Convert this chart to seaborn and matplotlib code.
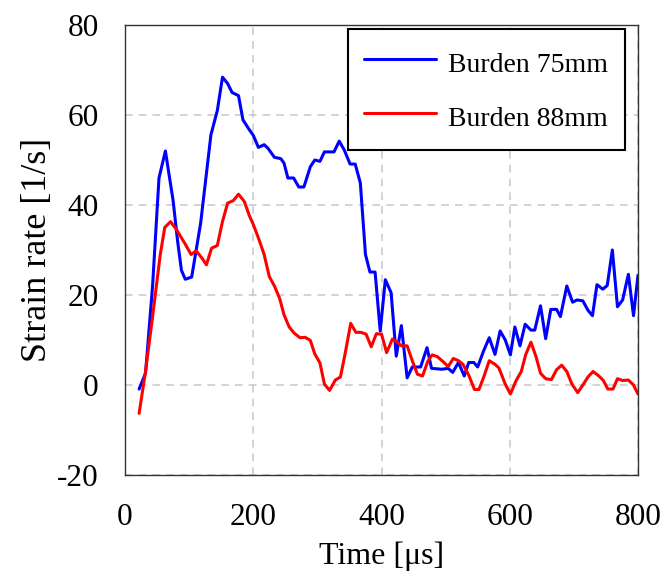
import numpy as np
import pandas as pd
import matplotlib
matplotlib.use("Agg")
import matplotlib.pyplot as plt
import seaborn as sns

t_75 = [22, 32, 43, 53, 63, 75, 82, 88, 94, 104, 118, 134, 144, 152, 160, 167, 177, 184, 194, 200,
        208, 217, 223, 233, 243, 248, 254, 263, 271, 279, 289, 296, 304, 311, 326, 334, 342, 351, 359,
        367, 375, 382, 390, 398, 406, 415, 423, 431, 440, 448, 461, 471, 478, 494, 504, 511, 520, 529,
        536, 544, 550, 559, 568, 577, 585, 593, 601, 608, 616, 624, 633, 639, 648, 656, 664, 673, 679,
        689, 698, 705, 714, 722, 729, 736, 745, 752, 760, 768, 776, 785, 793, 800]
v_75 = [-0.9, 2.6, 22, 46, 52, 41, 32, 25.5, 23.5, 24, 36, 55.6, 61, 68.4, 67, 65, 64.3, 58.9, 56.7, 55.5,
        52.8, 53.4, 52.6, 50.6, 50.3, 49.3, 46, 46, 44, 44, 48.5, 50, 49.7, 51.8, 51.8, 54.2, 52.2, 49.1, 49.1,
        44.9, 29, 25.1, 25.1, 12, 23.4, 20.5, 6.4, 13.2, 1.6, 4, 4, 8.3, 3.7, 3.5, 3.7, 2.8, 5, 2,
        5, 5, 4, 7.5, 10.5, 6.8, 12, 10, 6.7, 12.9, 8.7, 13.5, 12.2, 12.2, 17.6, 10.3, 16.8, 16.8, 15.2,
        22, 18.4, 18.9, 18.7, 16.6, 15.4, 22.3, 21.3, 22.1, 30, 17.4, 18.9, 24.6, 15.4, 24.4]

t_88 = [22, 32, 43, 55, 62, 71, 80, 88, 94, 103, 111, 120, 127, 135, 144, 152, 160, 169, 177, 186,
        194, 200, 209, 217, 225, 233, 241, 248, 256, 264, 273, 281, 289, 296, 304, 311, 319, 328, 336,
        344, 352, 360, 368, 376, 384, 392, 400, 408, 417, 425, 431, 440, 448, 456, 464, 472, 479, 487,
        496, 504, 512, 520, 527, 536, 545, 552, 560, 568, 577, 583, 593, 601, 610, 618, 625, 633, 641,
        648, 656, 665, 673, 681, 689, 697, 706, 714, 722, 730, 739, 746, 753, 761, 768, 776, 785, 793, 800]
v_88 = [-6.3, 3, 15.2, 29, 35, 36.3, 34.6, 32.7, 31.3, 29, 29.8, 28.2, 26.7, 30.4, 31, 36.3, 40.4, 41, 42.4, 40.8,
        37.6, 35.7, 32.3, 29, 24.1, 22, 19.3, 15.6, 12.9, 11.5, 10.5, 10.6, 9.9, 6.9, 4.9, 0.2, -1.2, 1.1, 1.8,
        7.5, 13.7, 11.7, 11.7, 11.3, 8.5, 11.4, 11.3, 7.2, 10.2, 9.5, 8.7, 8.7, 5.4, 2.4, 2, 5.2, 6.7, 6.3,
        5.2, 4.1, 5.9, 5.4, 4.6, 2.2, -1, -1, 2, 5.4, 4.6, 3.8, 0.2, -2, 1, 3, 6.8, 9.5, 6.3,
        2.6, 1.4, 1.2, 3.4, 4.4, 3, 0.2, -1.7, 0, 1.8, 3, 2, 1, -0.9, -0.9, 1.4, 1, 1.1, 0, -2]

labels = ["Burden 75mm", "Burden 88mm"]
x_ticks = [0, 200, 400, 600, 800]
y_ticks = [-20, 0, 20, 40, 60, 80]

df = pd.concat([
    pd.DataFrame({"t": t_75, "v": v_75, "series": labels[0]}),
    pd.DataFrame({"t": t_88, "v": v_88, "series": labels[1]}),
], ignore_index=True)

sns.set_theme(style="white")
plt.rcParams["font.family"] = ["Liberation Serif", "DejaVu Serif"]
plt.rcParams["axes.unicode_minus"] = False
plt.rcParams["text.color"] = "black"
plt.rcParams["axes.labelcolor"] = "black"

fig = plt.figure(figsize=(6.64, 5.76), dpi=100)
ax = fig.add_axes([125 / 664, 1 - 475 / 576, 513 / 664, 450 / 576])

sns.lineplot(data=df, x="t", y="v", hue="series", palette=["#0000ff", "#ff0000"],
             linewidth=2.2, ax=ax, sort=False, estimator=None)

ax.set_xlim(0, 800)
ax.set_ylim(-20, 80)
ax.set_xticks(x_ticks)
ax.set_yticks(y_ticks)
ax.tick_params(axis="both", labelsize=22.5, length=0, colors="black")
ax.tick_params(axis="x", pad=20)
ax.tick_params(axis="y", pad=19)
ax.grid(True, color="#c8c8c8", linestyle=(0, (5, 4)), linewidth=1.1)
for s in ax.spines.values():
    s.set_color("#333333")
    s.set_linewidth(1.0)
ax.set_xlabel("Time [μs]", fontsize=23, labelpad=7)
ax.set_ylabel("Strain rate [1/s]", fontsize=26, labelpad=2)

leg = ax.legend(loc="upper right", bbox_to_anchor=(500 / 513, 446 / 450), fontsize=20,
                frameon=True, fancybox=False, edgecolor="black", handlelength=2.6,
                handleheight=1.5, handletextpad=0.43, labelspacing=0.72,
                borderpad=0.6, borderaxespad=0.0, framealpha=1.0)
leg.get_frame().set_linewidth(1.5)
leg.set_title(None)
for line in leg.get_lines():
    line.set_linewidth(2.2)

fig.savefig("out.png", dpi=100)
